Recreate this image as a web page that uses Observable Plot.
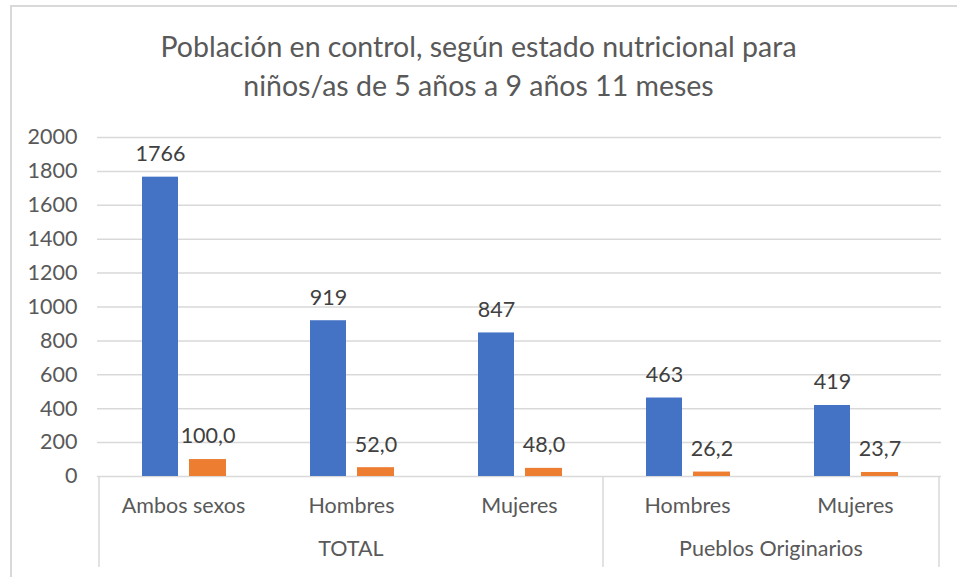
<!DOCTYPE html>
<html>
<head>
<meta charset="utf-8">
<script src="https://cdn.jsdelivr.net/npm/d3@7"></script>
<script src="https://cdn.jsdelivr.net/npm/@observablehq/plot@0.6"></script>
<style>
  body { margin: 0; background: #fff; font-family: Lato, "Open Sans", sans-serif; }
  #wrap { position: relative; width: 957px; height: 577px; overflow: hidden; background: #fff; }
  #border { position: absolute; left: 10px; top: 5px; width: 2000px; height: 2000px;
            border-left: 2px solid #d9d9d9; border-top: 2px solid #d9d9d9; box-sizing: border-box; }
  #title { position: absolute; left: 0; top: 27px; width: 957px; text-align: center;
           font-size: 28.5px; line-height: 39px; color: #595959; }
  #chart { position: absolute; left: 0; top: 115px; }
</style>
</head>
<body>
<div id="wrap">
  <div id="border"></div>
  <div id="title">Población en control, según estado nutricional para<br>niños/as de 5 años a 9 años 11 meses</div>
  <div id="chart"></div>
</div>
<script>
// ---- data ----
const groups = ["TOTAL", "TOTAL", "TOTAL", "Pueblos Originarios", "Pueblos Originarios"];
const categories = ["Ambos sexos", "Hombres", "Mujeres", "Hombres", "Mujeres"];
const counts = [1766, 919, 847, 463, 419];
const percents = [100.0, 52.0, 48.0, 26.2, 23.7];
const yTicks = [0, 200, 400, 600, 800, 1000, 1200, 1400, 1600, 1800, 2000];

const rows = categories.map((c, i) => ({
  key: groups[i] + "|" + c, group: groups[i], cat: c, n: counts[i], p: percents[i]
}));
const keys = rows.map(d => d.key);

const blue = "#4472C4", orange = "#ED7D31";
const fs = 21.5;

const plot = Plot.plot({
  width: 957,
  height: 462,
  marginTop: 22,
  marginBottom: 101,
  marginLeft: 97,
  marginRight: 16,
  style: { fontFamily: "Lato, 'Open Sans', sans-serif", fontSize: fs + "px", background: "transparent" },
  x: { type: "band", domain: keys, padding: 0, axis: null },
  y: { domain: [0, 2000], ticks: yTicks, axis: null },
  marks: [
    Plot.ruleY(yTicks, { stroke: "#d9d9d9", strokeWidth: 1.5 }),
    Plot.axisY({ ticks: yTicks, tickSize: 0, tickPadding: 20, tickFormat: d => String(d), fill: "#595959", fontSize: fs, label: null }),
    Plot.barY(rows, { x: "key", y: "n", fill: blue, insetLeft: 43, insetRight: 89 }),
    Plot.barY(rows, { x: "key", y: "p", fill: orange, insetLeft: 90, insetRight: 41 }),
    Plot.text(rows, { x: "key", y: "n", text: d => String(d.n), dx: -23, dy: -23, fill: "#404040", fontSize: fs, lineAnchor: "middle" }),
    Plot.text(rows, { x: "key", y: "p", text: d => d.p.toFixed(1).replace(".", ","), dx: 24.5, dy: -23, fill: "#404040", fontSize: fs, lineAnchor: "middle" }),
    Plot.text(rows, { x: "key", text: "cat", frameAnchor: "bottom", dy: 30, fill: "#595959", fontSize: fs, lineAnchor: "middle" })
  ]
});
document.getElementById("chart").appendChild(plot);

// multi-level axis decorations using the plot's own scales
const xs = plot.scale("x");
const ys = plot.scale("y");
const bw = xs.bandwidth;
const y0 = ys.apply(0);
const svg = d3.select(plot);
const grpNames = Array.from(new Set(groups));
const edges = [];
const grpInfo = grpNames.map(g => {
  const ks = rows.filter(d => d.group === g).map(d => d.key);
  const x0 = xs.apply(ks[0]);
  const x1 = xs.apply(ks[ks.length - 1]) + bw;
  return { g, x0, x1 };
});
grpInfo.forEach((d, i) => { if (i === 0) edges.push(d.x0); edges.push(d.x1); });
svg.append("g").selectAll("line").data(edges).join("line")
  .attr("x1", d => d).attr("x2", d => d)
  .attr("y1", y0).attr("y2", y0 + 91)
  .attr("stroke", "#d9d9d9").attr("stroke-width", 1.5);
svg.append("g").selectAll("text").data(grpInfo).join("text")
  .attr("x", d => (d.x0 + d.x1) / 2).attr("y", y0 + 75)
  .attr("text-anchor", "middle").attr("dominant-baseline", "middle")
  .attr("fill", "#595959").attr("font-size", fs)
  .text(d => d.g);
</script>
</body>
</html>
